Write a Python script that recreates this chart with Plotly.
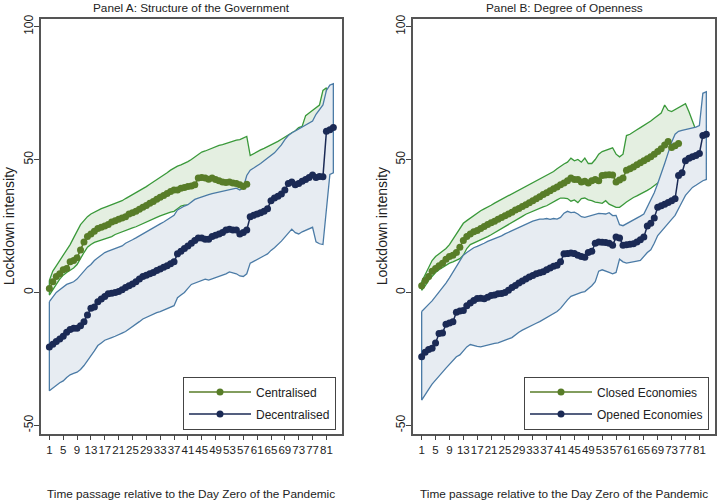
import plotly.graph_objects as go

# ---------------- data ----------------
days = list(range(1, 84))
x_ticks = list(range(1, 82, 4))
y_ticks = [-50, 0, 50, 100]

# Panel A: Structure of the Government
A_cen_mean = [1.5, 4, 6, 7, 8.5, 9, 11.5, 12, 13, 16,
              19, 21, 22, 23, 24, 24.5, 25, 25.5, 26.5, 27,
              27.5, 28, 28.5, 29.5, 30, 30.5, 31.3, 32, 32.7, 33.5,
              34.2, 35, 35.8, 36.5, 37.2, 38, 38.5, 38.5, 39.2, 39.5,
              39.8, 40, 40.5, 43, 43.2, 43, 42.6, 43, 42.5, 42,
              41.5, 41.3, 41.5, 41.2, 41, 40.5, 39.8, 40.7]
A_cen_hi = [4.5, 8, 10, 12, 14, 16, 18, 20.5, 23, 25.5,
            27, 28.5, 29.5, 30.2, 31, 31.5, 32, 32.5, 33, 33.5,
            34, 34.5, 35.3, 36, 36.8, 37.5, 38.3, 39, 39.8, 40.7,
            41.5, 42.5, 43.3, 44, 45, 46, 46.8, 47.5, 48, 48.5,
            49.2, 50, 51, 52, 52.8, 53.2, 53.8, 54.3, 54.8, 55.3,
            55.6, 56, 56.5, 57, 57.3, 57.5, 58, 58.7, 51.5, 52.3,
            53, 53.6, 54.2, 54.8, 55.3, 56, 56.8, 57.6, 58.5, 59.3,
            60, 60.8, 62, 62.5, 66.5, 67.5, 68.5, 69.5, 70.5, 76, 77]
A_cen_lo = [-1, 1, 3, 5, 6.5, 7.5, 8.5, 9.2, 10.5, 13,
            15, 17, 18, 18.8, 19.3, 19.7, 20, 20.5, 21, 21.8,
            22.5, 23, 23.4, 23.8, 24.3, 24.7, 25, 25.6, 26.2, 27,
            27.6, 28.2, 28.8, 29.3, 29.8, 30.2, 30.5, 31.5, 32.5, 32.8,
            32.8, 33.8, 34.5, 35, 35.5, 35.8, 36.2, 36.5, 36.8, 37,
            37, 37.2, 37.5, 37.6, 37.8, 37.5, 37.8, 38.5, 39, 39.5,
            40, 40.5, 41, 41.5, 42, 42.5, 43, 43.5, 44, 44.5,
            45, 45.5, 46, 46.5, 47, 47.5, 48, 49, 51, 55, 58]
A_dec_mean = [-20.5, -19.5, -18.5, -17.5, -16.5, -15, -14, -13.5, -13.5, -12.5,
              -11, -8.5, -6, -5.5, -3.5, -2.5, -1.5, -0.5, -0.3, 0,
              0.3, 1, 1.8, 2.5, 3.2, 4, 5, 6, 6.5, 7,
              7.5, 8.2, 8.8, 9.5, 10, 10.8, 11.5, 14.5, 15.5, 16.5,
              17.5, 18.5, 19.5, 20.5, 20.5, 20, 20, 21, 21.5, 22,
              22.5, 23.5, 23.8, 23.5, 23.5, 22, 22.5, 23.5, 28.5, 29,
              29.5, 30, 30.5, 31.5, 34.5, 35.5, 36.2, 37, 38.5, 41,
              41.5, 40.5, 41, 41.8, 42.5, 43.2, 44.2, 43.2, 43.6, 43.5,
              60.6, 61.2, 62]
A_dec_hi = [-3.5, -1.5, 0, 1, 2, 3, 3.5, 4, 5, 6.5,
            8, 9.5, 10.5, 12, 13, 14, 15, 15.5, 16, 16.5,
            17, 17.5, 18.5, 19, 19.8, 20.5, 21.3, 22, 22.8, 23.5,
            24.3, 25, 25.8, 26.5, 27.3, 28, 29, 31, 31.8, 32.5,
            33, 34, 35, 35.5, 36, 36.5, 36.8, 37.2, 37.5, 37.8,
            38, 38.3, 38.7, 39, 39.2, 38.5, 39.4, 44, 46, 46.8,
            47.5, 48.5, 49.5, 50.5, 51.5, 52.5, 54, 55.5, 57.5, 59,
            60, 60.8, 61.5, 62.3, 63, 63.8, 64.5, 67, 69, 70.5,
            76, 78, 78.5]
A_dec_lo = [-37, -36, -35, -34, -33.3, -32, -31, -30.5, -30, -29,
            -27.5, -26, -24, -22, -20, -19, -18, -17.5, -17, -16.5,
            -16, -15.3, -14.7, -14, -13, -12, -11, -10, -9.3, -8.8,
            -8.2, -7.6, -7.2, -6.7, -6.2, -5.6, -5, -2, -1, 0,
            1.5, 3, 3.5, 4, 4.5, 5, 4.6, 5, 5.5, 6,
            6.5, 7, 7.7, 7.3, 7, 6.2, 6, 7, 11, 11.7,
            12.5, 13.2, 13.8, 14.5, 15.8, 16.8, 18, 19.3, 20.8, 22.5,
            23.8, 22.5, 22, 22.8, 23.5, 24, 24.5, 19, 18.3, 18,
            31, 44.4, 45]

# Panel B: Degree of Openness
B_cl_mean = [2.5, 4.5, 6, 8, 9, 10, 11, 12.5, 13.5, 14,
             15, 17, 19.5, 21, 22, 22.8, 23.3, 24, 24.8, 25.5,
             26.2, 26.8, 27.5, 28.2, 28.8, 29.5, 30.2, 31, 31.6, 32.3,
             33, 33.7, 34.5, 35.2, 36, 36.8, 37.5, 38.2, 39, 39.7,
             40.5, 41.2, 42, 43, 42.5, 42.5, 41.5, 41.8, 41.2, 42,
             42.5, 42, 44, 44.2, 44.3, 44.2, 41.5, 42.3, 43, 46,
             46.5, 47.2, 48, 48.8, 49.5, 50.3, 51, 52, 53, 54,
             55.5, 56.8, 54.5, 55.2, 56]
B_cl_hi = [4, 6.5, 9, 12, 13.5, 14.5, 15.5, 16.5, 18, 20,
           22, 24, 26, 27, 28, 29, 30, 30.7, 31.4, 32,
           32.8, 33.6, 34.3, 35, 35.7, 36.3, 36.9, 37.6, 38.3, 39,
           39.8, 40.6, 41.3, 42, 42.6, 43.3, 43.8, 44.5, 45.5, 46.5,
           47.5, 48.3, 49, 50.5, 49.5, 50, 49, 50.5, 48.5, 48.5,
           50, 52, 53, 53.5, 54, 54.4, 52, 51, 52, 59,
           59.5, 60.5, 61.2, 62, 62.8, 63.5, 64.5, 65.5, 66.5, 67.5,
           70.5, 68.5, 68, 68.8, 69.5, 70.3, 71, 68, 64.5, 61.5]
B_cl_lo = [0.8, 2.5, 4.5, 6.2, 7.5, 8.5, 9.5, 10.2, 11, 11.5,
           12, 12.7, 14, 16.5, 18, 18.8, 19.3, 19.8, 20.4, 21,
           21.7, 22.4, 23.1, 23.8, 24.6, 25.4, 26.2, 27, 27.8, 28.6,
           29.4, 30, 30.6, 31.1, 31.7, 32.2, 32.6, 33.3, 34, 34.8,
           35.5, 35.5, 35.3, 34.3, 34.8, 33.8, 35.3, 35.5, 34.8, 34.5,
           34, 33.8, 33.5, 34.5, 33.2, 32.6, 32, 32, 33, 34,
           35, 35.7, 36.3, 37, 37.6, 38.4, 39.2, 40, 41, 42,
           43, 44, 45, 46, 47.5, 49, 51, 54, 58, 61]
B_op_mean = [-24.2, -22.5, -21.5, -21, -19, -15.5, -15.3, -12, -11.5, -11,
             -7.5, -7, -6.8, -5, -4, -3, -2.3, -2.2, -2.4, -1.8,
             -1.2, -1, -0.5, -0.4, 0, 0.8, 1.8, 2.6, 3.5, 4.3,
             5, 5.8, 6.4, 7, 7.4, 7.8, 8.5, 9.2, 9.8, 10.2,
             11.5, 14.5, 14.6, 14.8, 14.6, 14, 13.5, 13.2, 15, 15.5,
             18.5, 19, 18.9, 18.8, 18.5, 17.7, 20.8, 20.5, 17.7, 17.9,
             18.1, 18.3, 19, 19.8, 20.8, 25, 26, 28, 32, 32.6,
             33.2, 33.8, 34.5, 35.2, 44, 45, 49.5, 50.5, 51, 51.5,
             52.3, 59, 59.5]
B_op_hi = [-7.2, -6, -4.5, -3.2, -1.5, 0, 1.5, 3.5, 5.5, 7.5,
           9.5, 12, 14, 15, 16, 16.8, 17.3, 17.8, 18.5, 19.2,
           19.7, 20.1, 20.7, 21.3, 22, 22.6, 23.2, 23.8, 24.5, 25.2,
           25.8, 26.4, 26.8, 27.2, 27.6, 27.6, 27.8, 27.5, 27.8, 27.6,
           28.2, 29.8, 30.5, 30, 30.2, 29.5, 28.5, 28.2, 28.6, 28.9,
           29.5, 29.7, 29.6, 29.5, 30, 28.9, 29, 25.5, 25.1, 25.8,
           26.5, 27, 27.8, 28.7, 29.5, 32, 34.5, 37.5, 41, 44.5,
           48.5, 52.5, 56.5, 59.5, 60.6, 61, 61.3, 61.5, 61.8, 62.2,
           62.8, 74.9, 75.5]
B_op_lo = [-40.5, -38.5, -36.5, -34.5, -33, -31.5, -30, -28.5, -27, -25.5,
           -24.2, -23.5, -22, -20.5, -19.6, -20, -20.3, -20.5, -20.3, -19.8,
           -19.5, -19.2, -19, -18.5, -18, -17.5, -17, -16, -15, -14.2,
           -13.5, -12.8, -12.2, -11.6, -11, -10.3, -9.6, -8.8, -8, -7.2,
           -6, -4.5, -2.8, -1.5, -1, -0.5, 0, 0.3, 1.5, 2.5,
           4, 8, 8.5, 8, 7.5, 7, 7.5, 12.5, 11.5, 11,
           11.3, 11.6, 11.8, 12, 13.5, 15, 16, 18.5, 21.4, 23,
           24.5, 26, 27.5, 29, 31.5, 34, 36.5, 38, 39.5, 40.3,
           41, 42, 42.5]

# ---------------- styling ----------------
FONT = "Liberation Sans, Arial, sans-serif"
GREEN_M = "#587d28"
GREEN_L = "#3a993a"
GREEN_F = "#e4efe1"
BLUE_M = "#1b2a55"
BLUE_L = "#4b7ba6"
BLUE_F = "#e7ecf2"
W, H = 717, 503


def band(lo, hi):
    n = min(len(lo), len(hi))
    xs = days[:n]
    return (xs + xs[::-1] + [xs[0]],
            list(hi[:n]) + list(lo[:n])[::-1] + [hi[0]])


fig = go.Figure()


def add_panel(xa, ya, leg, g_lo, g_hi, g_mean, g_name, b_lo, b_hi, b_mean, b_name):
    bx, by = band(g_lo, g_hi)
    fig.add_trace(go.Scatter(x=bx, y=by, mode="lines", fill="toself",
                             fillcolor=GREEN_F, line=dict(color=GREEN_L, width=1.3),
                             showlegend=False, hoverinfo="skip", xaxis=xa, yaxis=ya))
    bx, by = band(b_lo, b_hi)
    fig.add_trace(go.Scatter(x=bx, y=by, mode="lines", fill="toself",
                             fillcolor=BLUE_F, line=dict(color=BLUE_L, width=1.3),
                             showlegend=False, hoverinfo="skip", xaxis=xa, yaxis=ya))
    fig.add_trace(go.Scatter(x=days[:len(g_mean)], y=g_mean, mode="lines+markers", name=g_name,
                             line=dict(color=GREEN_M, width=1.5),
                             marker=dict(color=GREEN_M, size=7),
                             legend=leg, legendgroup=g_name, xaxis=xa, yaxis=ya))
    fig.add_trace(go.Scatter(x=days[:len(b_mean)], y=b_mean, mode="lines+markers", name=b_name,
                             line=dict(color=BLUE_M, width=1.5),
                             marker=dict(color=BLUE_M, size=7),
                             legend=leg, legendgroup=b_name, xaxis=xa, yaxis=ya))


add_panel("x", "y", "legend", A_cen_lo, A_cen_hi, A_cen_mean, "Centralised",
          A_dec_lo, A_dec_hi, A_dec_mean, "Decentralised")
add_panel("x2", "y2", "legend2", B_cl_lo, B_cl_hi, B_cl_mean, "Closed Economies",
          B_op_lo, B_op_hi, B_op_mean, "Opened Economies")

ydom = [(H - 433) / H, (H - 15) / H]
xdomA = [40.7 / W, 342 / W]
xdomB = [413 / W, 715 / W]

xcommon = dict(range=[-1.5, 85.5], tickvals=x_ticks, ticktext=[str(t) for t in x_ticks],
               ticks="outside", ticklen=5, tickwidth=1, tickcolor="#444",
               tickangle=0, tickfont=dict(size=11.5, color="#222", family=FONT),
               showgrid=False, zeroline=False, showline=True, mirror=True,
               linecolor="#555", linewidth=1.5)
ycommon = dict(range=[-53.1, 102.9], tickvals=y_ticks, ticktext=[str(t) for t in y_ticks],
               ticks="outside", ticklen=5, tickwidth=1, tickcolor="#444",
               tickangle=-90, tickfont=dict(size=12, color="#222", family=FONT),
               ticklabelstandoff=-4,
               showgrid=False, zeroline=False, showline=True, mirror=True,
               linecolor="#555", linewidth=1.5)

legcommon = dict(xanchor="right", yanchor="bottom", bgcolor="white",
                 bordercolor="#444", borderwidth=1, itemwidth=62,
                 font=dict(size=12, color="#222", family=FONT),
                 traceorder="grouped", tracegroupgap=3)

fig.update_layout(
    width=W, height=H, margin=dict(l=0, r=0, t=0, b=0),
    paper_bgcolor="white", plot_bgcolor="white",
    font=dict(family=FONT, color="#222"),
    xaxis=dict(domain=xdomA, anchor="y", **xcommon),
    yaxis=dict(domain=ydom, anchor="x", **ycommon),
    xaxis2=dict(domain=xdomB, anchor="y2", **xcommon),
    yaxis2=dict(domain=ydom, anchor="x2", **ycommon),
    legend=dict(x=336 / W, y=(H - 429) / H, **legcommon),
    legend2=dict(x=709 / W, y=(H - 429) / H, **legcommon),
    showlegend=True,
)

anns = [
    ("Panel A: Structure of the Government", (xdomA[0] + xdomA[1]) / 2, 1 - 4 / H, 0, 11.8),
    ("Panel B: Degree of Openness", (xdomB[0] + xdomB[1]) / 2, 1 - 4 / H, 0, 11.8),
    ("Time passage relative to the Day Zero of the Pandemic", (xdomA[0] + xdomA[1]) / 2, 1 - 494 / H, 0, 11.8),
    ("Time passage relative to the Day Zero of the Pandemic", (xdomB[0] + xdomB[1]) / 2, 1 - 494 / H, 0, 11.8),
    ("Lockdown intensity", 9 / W, 1 - 224 / H, -90, 14),
    ("Lockdown intensity", 382 / W, 1 - 224 / H, -90, 14),
]
for text, ax, ay, ang, fs in anns:
    fig.add_annotation(text=text, x=ax, y=ay, xref="paper", yref="paper",
                       xanchor="center", yanchor="middle", showarrow=False,
                       textangle=ang, font=dict(size=fs, color="#222", family=FONT))

fig.write_html("out.html", config={"displayModeBar": False},
               post_script="document.body.style.margin='0';document.body.style.padding='0';")
